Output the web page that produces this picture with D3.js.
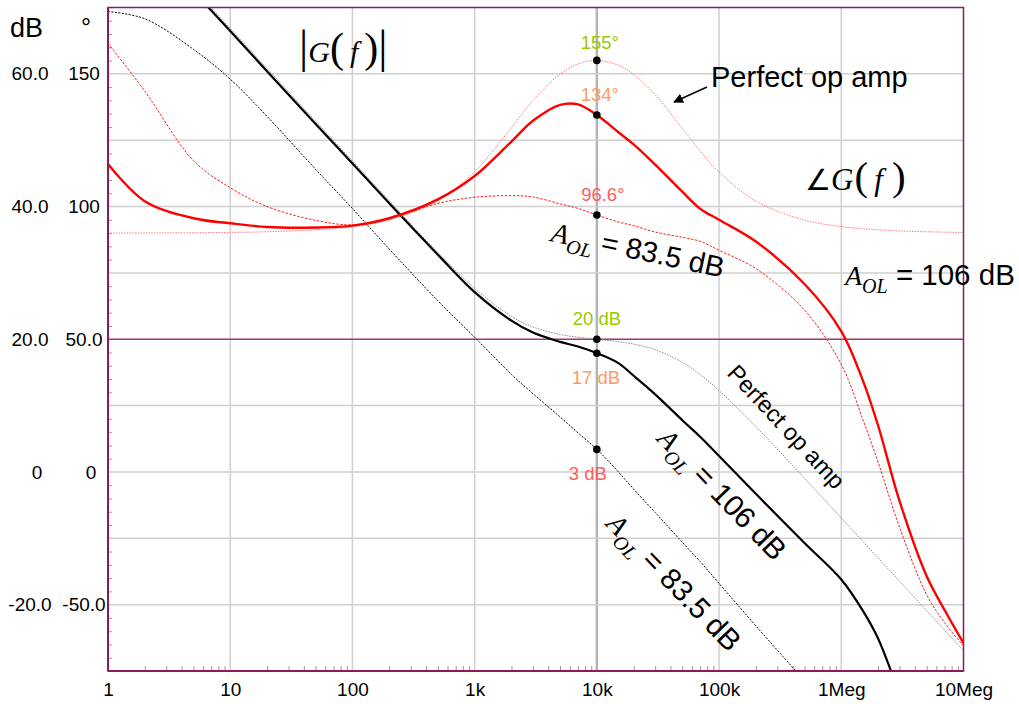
<!DOCTYPE html>
<html>
<head>
<meta charset="utf-8">
<script src="https://cdn.jsdelivr.net/npm/d3@7"></script>
<style>
  html, body { margin: 0; padding: 0; background: #fff; }
  svg { display: block; }
</style>
</head>
<body>
<div id="chart"></div>
<script>
// frequency points (Hz) shared by every curve
const freqs = [1, 2, 5, 10, 20, 50, 100, 200, 500, 1e3, 2e3, 3e3, 5e3, 7e3, 1e4, 1.5e4, 2e4, 3e4, 5e4, 7e4,
               1e5, 2e5, 5e5, 1e6, 1.5e6, 2e6, 3e6, 5e6, 7e6, 1e7];

// |G(f)| in dB
const magPerfect = [86.85, 80.83, 72.87, 66.85, 60.83, 52.87, 46.86, 40.87, 33.09, 27.67, 23.44, 21.85, 20.72, 20.31, 20.0,
                    19.64, 19.27, 18.43, 16.52, 14.67, 12.26, 6.83, -0.95, -6.94, -10.46, -12.96, -16.48, -20.92, -23.84, -26.94];
const mag106 = [86.45, 80.4, 72.45, 66.45, 60.4, 52.45, 46.5, 40.5, 32.75, 27.1, 22.8, 21.0, 19.6, 18.9, 17.9,
                16.4, 14.5, 11.7, 7.8, 5.3, 2.4, -3.3, -10.7, -16.2, -20.9, -25.1, -33.6, -46, -53, -60];
const mag835 = [69.4, 68.3, 63.7, 59.2, 53.6, 45.6, 39.7, 33.6, 25.8, 20.3, 14.7, 11.8, 8.3, 5.9, 3.4,
                0.0, -2.6, -6.1, -10.6, -13.5, -16.8, -23.2, -31.5, -38, -42, -44.5, -48, -53, -56, -59];

// angle G(f) in degrees
const phasePerfect = [90.0, 90.05, 90.12, 90.25, 90.5, 91.24, 92.47, 94.94, 102.17, 113.17, 129.73, 139.94, 149.91, 153.71, 155.06,
                      153.23, 149.76, 142.12, 129.47, 120.94, 112.97, 102.05, 94.89, 92.45, 91.64, 91.23, 90.82, 90.49, 90.35, 90.25];
const phase106 = [116, 102, 95.6, 93.7, 92.3, 92.1, 92.8, 95.6, 102.7, 111.5, 124.5, 132.3, 138.3, 138.5, 134.5,
                  128, 123.4, 115.8, 105.6, 99.2, 95, 86.8, 70.8, 53, 34.5, 17.5, -11, -39.3, -52, -64.5];
const phase835 = [161.5, 143.5, 117.3, 107.1, 100, 94.8, 93.1, 95.4, 101.2, 103.5, 104.1, 103.6, 101, 99.3, 96.8,
                  94.2, 92.8, 90.4, 88.4, 86.9, 83.5, 76.6, 61, 40.5, 19.8, 3.7, -20.9, -46.3, -56.8, -65.5];

// axis ticks
const freqTicks = [1, 10, 100, 1e3, 1e4, 1e5, 1e6, 1e7];
const freqTickLabels = ["1", "10", "100", "1k", "10k", "100k", "1Meg", "10Meg"];
const dbTicks = [60, 40, 20, 0, -20];
const dbTickLabels = ["60.0", "40.0", "20.0", "0", "-20.0"];
const degTicks = [150, 100, 50, 0, -50];
const degTickLabels = ["150", "100", "50.0", "0", "-50.0"];

// values marked at 10 kHz
const markFreq = 1e4;
const markLabels = ["155°", "134°", "96.6°", "20 dB", "17 dB", "3 dB"];

const W = 1019, H = 704;
const L = 108, R = 963.5, T = 7.5, B = 671;
const sans = "Liberation Sans, Arial, sans-serif";
const serif = "Liberation Serif, Times New Roman, serif";
const frameColor = "#8c1a5a";

const x = d3.scaleLog().domain([1, 1e7]).range([L, R]);
const yDb = d3.scaleLinear().domain([-30, 70]).range([B, T]);
const yDeg = d3.scaleLinear().domain([-75, 175]).range([B, T]);

const svg = d3.select("#chart").append("svg").attr("width", W).attr("height", H)
  .style("background", "#fff");

svg.append("defs").append("clipPath").attr("id", "plot")
  .append("rect").attr("x", L).attr("y", T).attr("width", R - L).attr("height", B - T);

// grid
const grid = svg.append("g");
grid.selectAll(".vg").data(freqTicks.slice(1, -1)).enter().append("line")
  .attr("x1", d => x(d)).attr("x2", d => x(d)).attr("y1", T).attr("y2", B)
  .attr("stroke", d => d === markFreq ? "#b4b4b4" : "#cfcfcf")
  .attr("stroke-width", d => d === markFreq ? 2.5 : 1.5);
grid.selectAll(".hg").data(d3.range(-20, 70, 10)).enter().append("line")
  .attr("x1", L).attr("x2", R).attr("y1", d => yDb(d)).attr("y2", d => yDb(d))
  .attr("stroke", d => d === 20 ? "#a3356f" : "#cfcfcf")
  .attr("stroke-width", 1.5);

// minor ticks
const minorF = [];
for (let d = 1; d < 1e7; d *= 10) for (let m = 2; m < 10; m++) minorF.push(d * m);
const minorX = svg.append("g").attr("transform", `translate(0,${B})`)
  .call(d3.axisBottom(x).tickValues(minorF).tickSize(-5).tickFormat(""));
minorX.select(".domain").remove();
minorX.selectAll("line").attr("stroke", "#9a9a9a");

const minorY = svg.append("g").attr("transform", `translate(${L},0)`)
  .call(d3.axisLeft(yDb).tickValues(d3.range(-28, 70, 2).filter(v => v % 10 !== 0)).tickSize(-4).tickFormat(""));
minorY.select(".domain").remove();
minorY.selectAll("line").attr("stroke", "#9a9a9a");

// curves
const curves = [
  { vals: magPerfect, y: yDb, stroke: "#8a8a8a", width: 1, dash: "1.5,1.2" },
  { vals: mag835, y: yDb, stroke: "#000", width: 1, dash: "2,1.5" },
  { vals: mag106, y: yDb, stroke: "#000", width: 2.2, dash: null },
  { vals: phasePerfect, y: yDeg, stroke: "#ff7a7a", width: 1, dash: "1.5,1.2" },
  { vals: phase835, y: yDeg, stroke: "#ff1a1a", width: 1, dash: "2.5,1.5" },
  { vals: phase106, y: yDeg, stroke: "#ff0000", width: 2.4, dash: null }
];
const plot = svg.append("g").attr("clip-path", "url(#plot)");
curves.forEach(c => {
  const line = d3.line().x((d, i) => x(freqs[i])).y(d => c.y(d)).curve(d3.curveCatmullRom.alpha(0.5));
  plot.append("path").datum(c.vals).attr("d", line)
    .attr("fill", "none").attr("stroke", c.stroke).attr("stroke-width", c.width)
    .attr("stroke-dasharray", c.dash);
});

// frame
svg.append("rect").attr("x", L).attr("y", T).attr("width", R - L).attr("height", B - T)
  .attr("fill", "none").attr("stroke", frameColor).attr("stroke-width", 1.5);
svg.append("line").attr("x1", L).attr("x2", L).attr("y1", T).attr("y2", B)
  .attr("stroke", frameColor).attr("stroke-width", 2);
svg.append("line").attr("x1", L).attr("x2", R).attr("y1", B).attr("y2", B)
  .attr("stroke", frameColor).attr("stroke-width", 2);

// axes labels
const xAxis = svg.append("g").attr("transform", `translate(0,${B})`)
  .call(d3.axisBottom(x).tickValues(freqTicks).tickFormat((d, i) => freqTickLabels[i]).tickSize(0).tickPadding(12));
xAxis.select(".domain").remove();
xAxis.selectAll("text").attr("font-family", sans).attr("font-size", 19).attr("fill", "#000");

const dbAxis = svg.append("g").attr("transform", `translate(${L},0)`)
  .call(d3.axisLeft(yDb).tickValues(dbTicks).tickFormat((d, i) => dbTickLabels[i]).tickSize(0));
dbAxis.select(".domain").remove();
dbAxis.selectAll("text").attr("font-family", sans).attr("font-size", 19).attr("fill", "#000")
  .attr("text-anchor", "middle").attr("x", d => (d === 0 ? 37 : 30) - L);

const degAxis = svg.append("g").attr("transform", `translate(${L},0)`)
  .call(d3.axisLeft(yDeg).tickValues(degTicks).tickFormat((d, i) => degTickLabels[i]).tickSize(0));
degAxis.select(".domain").remove();
degAxis.selectAll("text").attr("font-family", sans).attr("font-size", 19).attr("fill", "#000")
  .attr("text-anchor", "middle").attr("x", d => (d === 0 ? 91 : 84) - L);

svg.append("text").attr("x", 10).attr("y", 37).attr("font-family", sans).attr("font-size", 27).text("dB");
svg.append("text").attr("x", 81).attr("y", 36).attr("font-family", sans).attr("font-size", 25).text("°");

// markers at 10 kHz
const mi = freqs.indexOf(markFreq);
const marks = [
  { v: phasePerfect[mi], y: yDeg, color: "#99c800", dx: 3, dy: -11 },
  { v: phase106[mi], y: yDeg, color: "#ff9a66", dx: 3, dy: -14 },
  { v: phase835[mi], y: yDeg, color: "#ff5c5c", dx: 6, dy: -14 },
  { v: magPerfect[mi], y: yDb, color: "#99c800", dx: 0, dy: -14 },
  { v: mag106[mi], y: yDb, color: "#ff9a66", dx: -1, dy: 31 },
  { v: mag835[mi], y: yDb, color: "#ff5c5c", dx: -9, dy: 31 }
];
marks.forEach((m, i) => {
  svg.append("circle").attr("cx", x(markFreq)).attr("cy", m.y(m.v)).attr("r", 3.8).attr("fill", "#000");
  svg.append("text").attr("x", x(markFreq) + m.dx).attr("y", m.y(m.v) + m.dy)
    .attr("text-anchor", "middle").attr("font-family", sans).attr("font-size", 18.5)
    .attr("fill", m.color).text(markLabels[i]);
});

// annotations
function aol(tx, ty, rot, rest, size) {
  const t = svg.append("text").attr("transform", `translate(${tx},${ty}) rotate(${rot})`);
  t.append("tspan").attr("font-family", serif).attr("font-style", "italic").attr("font-size", 28).text("A");
  t.append("tspan").attr("font-family", serif).attr("font-style", "italic").attr("font-size", 20)
    .attr("dy", 8).text("OL");
  t.append("tspan").attr("font-family", sans).attr("font-size", size).attr("dy", -8).text("\u00a0= " + rest);
}
aol(550, 241, 12, "83.5 dB", 29);
aol(845, 285, 0, "106 dB", 29.5);
aol(656, 440, 46, "106 dB", 29.5);
aol(605, 525, 46, "83.5 dB", 29.5);

svg.append("text").attr("x", 711).attr("y", 87).attr("font-family", sans).attr("font-size", 29).text("Perfect op amp");
svg.append("text").attr("transform", "translate(726,374) rotate(47)")
  .attr("font-family", sans).attr("font-size", 23.5).text("Perfect op amp");

// arrow
svg.append("defs").append("marker").attr("id", "ah").attr("viewBox", "0 0 10 10")
  .attr("refX", 9).attr("refY", 5).attr("markerWidth", 10).attr("markerHeight", 10)
  .attr("markerUnits", "userSpaceOnUse").attr("orient", "auto")
  .append("path").attr("d", "M0,0 L10,5 L0,10 z").attr("fill", "#000");
svg.append("line").attr("x1", 707).attr("y1", 87).attr("x2", 674).attr("y2", 102)
  .attr("stroke", "#000").attr("stroke-width", 1.5).attr("marker-end", "url(#ah)");

// |G(f)|
const g1 = svg.append("text").attr("x", 299).attr("y", 62).attr("font-family", serif);
g1.append("tspan").attr("font-size", 46).text("|");
g1.append("tspan").attr("font-size", 30).attr("font-style", "italic").text("G");
g1.append("tspan").attr("font-size", 42).text("(");
g1.append("tspan").attr("font-size", 30).attr("font-style", "italic").text("\u2009f\u2009");
g1.append("tspan").attr("font-size", 42).text(")");
g1.append("tspan").attr("font-size", 46).text("|");

// angle G(f)
const g2 = svg.append("text").attr("x", 805).attr("y", 190).attr("font-family", serif);
g2.append("tspan").attr("font-size", 29).text("\u2220");
g2.append("tspan").attr("font-size", 31).attr("font-style", "italic").text("G");
g2.append("tspan").attr("font-size", 41).attr("dx", 1).text("(");
g2.append("tspan").attr("font-size", 31).attr("font-style", "italic").text("\u2009f\u2009");
g2.append("tspan").attr("font-size", 41).attr("dx", 3).text(")");
</script>
</body>
</html>
